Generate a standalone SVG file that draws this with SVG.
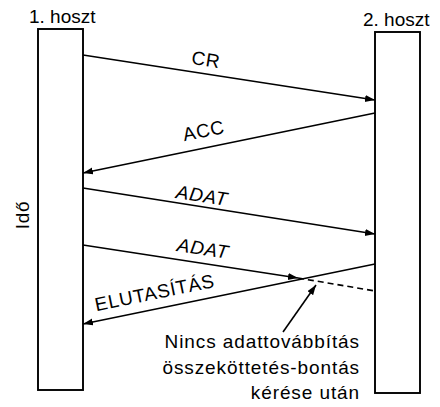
<svg xmlns="http://www.w3.org/2000/svg" width="440" height="407" viewBox="0 0 440 407">
  <style>
    .host { fill: none; stroke: #000; stroke-width: 1.9; }
    .msg { fill: none; stroke: #000; stroke-width: 1.6; marker-end: url(#head); }
    .dash { fill: none; stroke: #000; stroke-width: 1.6; stroke-dasharray: 6 4; }
    text { font-family: "Liberation Sans", Arial, Helvetica, sans-serif; font-size: 19px; fill: #000; }
    .lbl { text-anchor: middle; letter-spacing: 0.7px; }
    .it { font-style: italic; }
    .note { text-anchor: end; font-size: 19px; letter-spacing: 0.9px; }
  </style>
  <defs>
    <marker id="head" markerUnits="userSpaceOnUse" markerWidth="11" markerHeight="8" refX="10" refY="3.5" orient="auto">
      <path d="M0,0 L10,3.5 L0,7 z" fill="#000"/>
    </marker>
  </defs>

  <!-- host 1 lifeline -->
  <g id="host1">
    <rect class="host" x="38" y="29" width="45" height="361"/>
    <text x="29" y="23">1. hoszt</text>
  </g>

  <!-- host 2 lifeline -->
  <g id="host2">
    <rect class="host" x="375" y="32" width="45" height="361"/>
    <text x="363" y="26">2. hoszt</text>
  </g>

  <!-- time axis label -->
  <g id="time">
    <text x="29" y="215" class="lbl" transform="rotate(-90 29 215)">Idő</text>
  </g>

  <!-- messages -->
  <g id="connectors">
    <line class="msg" x1="83" y1="55" x2="375" y2="100"/>
    <line class="msg" x1="375" y1="113" x2="83" y2="173"/>
    <line class="msg" x1="83" y1="188" x2="375" y2="234"/>
    <line class="msg" x1="83" y1="245" x2="298" y2="278"/>
    <line class="msg" x1="375" y1="264" x2="83" y2="324"/>
    <line class="dash" x1="298" y1="278" x2="375" y2="291"/>
    <line class="msg" x1="283" y1="332" x2="316" y2="285"/>
  </g>

  <!-- message labels -->
  <g id="labels">
    <text class="lbl" x="205" y="66" transform="rotate(8.8 205 66)">CR</text>
    <text class="lbl" x="205" y="137" transform="rotate(-11.6 205 137)">ACC</text>
    <text class="lbl it" x="201" y="202" transform="rotate(8.9 201 202)">ADAT</text>
    <text class="lbl it" x="202" y="255" transform="rotate(8.8 202 255)">ADAT</text>
    <text class="lbl" x="156" y="299" transform="rotate(-11.6 156 299)" letter-spacing="1">ELUTASÍTÁS</text>
  </g>

  <!-- annotation -->
  <g id="note">
    <text class="note" x="360" y="348">Nincs adattovábbítás</text>
    <text class="note" x="360" y="374">összeköttetés-bontás</text>
    <text class="note" x="360" y="399">kérése után</text>
  </g>
</svg>
